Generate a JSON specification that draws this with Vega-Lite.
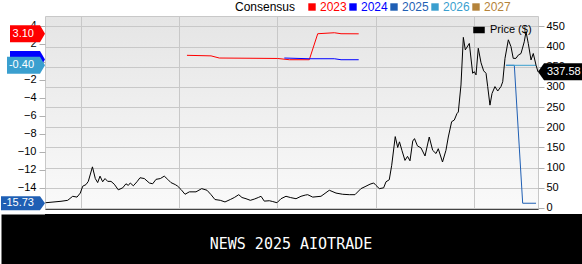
{
  "$schema": "https://vega.github.io/schema/vega-lite/v6.json",
  "padding": 0,
  "background": "white",
  "spacing": 0,
  "config": {"font": "Liberation Sans", "view": {"stroke": null}, "axis": {"labelOverlap": false, "labelBound": false, "minExtent": 0}},
  "vconcat": [
    {
      "width": 493,
      "height": 193,
      "view": {
        "stroke": "#c8c8c8",
        "fill": {"gradient": "linear", "x1": 0, "y1": 0, "x2": 0, "y2": 1, "stops": [{"offset": 0, "color": "#e5e5e5"}, {"offset": 1, "color": "#fafafa"}]}
      },
      "layer": [
        {
          "layer": [
            {
              "data": {"values": [
                {"s": "2023", "t": 2018.634, "v": 3.10, "label": "3.10"},
                {"s": "2024", "t": 2018.634, "v": 0.24, "label": ""},
                {"s": "2025", "t": 2018.634, "v": -15.73, "label": "-15.73"},
                {"s": "2026", "t": 2018.634, "v": -0.40, "label": "-0.40"}
              ]},
              "layer": [
                {
                  "mark": {"type": "point", "filled": true, "opacity": 1, "size": 4, "strokeWidth": 0},
                  "encoding": {
                    "x": {"field": "t", "type": "quantitative", "scale": {"domain": [2018.634, 2023.652], "nice": false, "zero": false}},
                    "y": {"field": "v", "type": "quantitative", "scale": {"domain": [-16.37, 5.08], "nice": false, "zero": false}},
                    "shape": {"field": "s", "type": "nominal", "legend": null, "scale": {"domain": ["2023", "2024", "2025", "2026"], "range": ["M0,0L-5,-8.5L-35,-8.5L-35,8.5L-5,8.5Z", "M0,0L-5,-8.5L-35,-8.5L-35,8.5L-5,8.5Z", "M0,0L-5,-7L-44,-7L-44,7L-5,7Z", "M0,0L-5,-8.5L-38,-8.5L-38,8.5L-5,8.5Z"]}},
                    "color": {
                      "field": "s", "type": "nominal",
                      "scale": {"domain": ["2023", "2024", "2025", "2026", "2027"], "range": ["#ff0000", "#0000ff", "#1f5fb4", "#3a9fcf", "#b5833a"]},
                      "legend": {
                        "orient": "none", "legendX": 190, "legendY": -15, "direction": "horizontal", "columns": 5,
                        "title": "Consensus", "titleOrient": "left", "titleFontSize": 12, "titleFontWeight": "normal", "titleColor": "black", "titlePadding": 10, "titleBaseline": "middle",
                        "labelFontSize": 12, "labelOffset": 2, "columnPadding": 0, "padding": 0,
                        "labelColor": {"expr": "datum.value == '2023' ? '#ff0000' : datum.value == '2024' ? '#0000ff' : datum.value == '2025' ? '#1f5fb4' : datum.value == '2026' ? '#3a9fcf' : '#b5833a'"},
                        "symbolType": "square", "symbolSize": 55, "symbolStrokeWidth": 0
                      }
                    }
                  }
                },
                {
                  "mark": {"type": "text", "color": "white", "fontSize": 11, "align": "right", "baseline": "middle", "dx": -11},
                  "encoding": {
                    "x": {"field": "t", "type": "quantitative"},
                    "y": {"field": "v", "type": "quantitative"},
                    "text": {"field": "label"}
                  }
                }
              ]
            },
            {
              "data": {"values": [
                {"s": "2023", "t": 2020.079, "v": 0.71},
                {"s": "2023", "t": 2020.324, "v": 0.65},
                {"s": "2023", "t": 2020.408, "v": 0.41},
                {"s": "2023", "t": 2021.002, "v": 0.36},
                {"s": "2023", "t": 2021.121, "v": 0.22},
                {"s": "2023", "t": 2021.324, "v": 0.22},
                {"s": "2023", "t": 2021.410, "v": 3.11},
                {"s": "2023", "t": 2021.579, "v": 3.22},
                {"s": "2023", "t": 2021.647, "v": 3.11},
                {"s": "2023", "t": 2021.827, "v": 3.10},
                {"s": "2024", "t": 2021.070, "v": 0.41},
                {"s": "2024", "t": 2021.324, "v": 0.33},
                {"s": "2024", "t": 2021.579, "v": 0.33},
                {"s": "2024", "t": 2021.647, "v": 0.22},
                {"s": "2024", "t": 2021.827, "v": 0.22},
                {"s": "2025", "t": 2023.326, "v": -0.40},
                {"s": "2025", "t": 2023.411, "v": -0.40},
                {"s": "2025", "t": 2023.496, "v": -15.73},
                {"s": "2025", "t": 2023.632, "v": -15.73},
                {"s": "2026", "t": 2023.326, "v": -0.40},
                {"s": "2026", "t": 2023.632, "v": -0.40}
              ]},
              "mark": {"type": "line", "strokeWidth": 1},
              "encoding": {
                "x": {"field": "t", "type": "quantitative", "scale": {"domain": [2018.634, 2023.652], "nice": false, "zero": false},
                      "axis": {"title": null, "grid": true, "gridColor": "#c8c8c8", "values": [2019, 2020, 2021, 2022, 2023], "tickCount": 30, "labels": false, "ticks": false, "domainColor": "#444444", "minExtent": 0}},
                "y": {"field": "v", "type": "quantitative",
                      "axis": {"orient": "left", "title": null, "grid": false, "domain": false, "values": [-14, -12, -10, -8, -6, -4, -2, 0, 2, 4], "tickCount": 30, "labelOverlap": false, "labelBound": false, "tickColor": "#b0b0b0", "tickSize": 6, "labelPadding": 3, "labelFontSize": 11, "labelColor": "black"}},
                "color": {"field": "s", "type": "nominal"}
              }
            }
          ]
        },
        {
          "layer": [
            {
              "data": {"values": [
                {"t": 2018.640, "p": 13}, {"t": 2018.797, "p": 16.6}, {"t": 2018.865, "p": 19}, {"t": 2018.916, "p": 29},
                {"t": 2018.960, "p": 27}, {"t": 2018.993, "p": 37}, {"t": 2019.018, "p": 54}, {"t": 2019.051, "p": 58},
                {"t": 2019.075, "p": 66}, {"t": 2019.117, "p": 102}, {"t": 2019.146, "p": 73}, {"t": 2019.170, "p": 63},
                {"t": 2019.194, "p": 79}, {"t": 2019.221, "p": 65}, {"t": 2019.245, "p": 73}, {"t": 2019.272, "p": 66},
                {"t": 2019.306, "p": 66}, {"t": 2019.339, "p": 59}, {"t": 2019.380, "p": 45}, {"t": 2019.425, "p": 50},
                {"t": 2019.458, "p": 60}, {"t": 2019.482, "p": 56}, {"t": 2019.502, "p": 62}, {"t": 2019.533, "p": 55},
                {"t": 2019.570, "p": 65}, {"t": 2019.601, "p": 75}, {"t": 2019.645, "p": 73}, {"t": 2019.696, "p": 62},
                {"t": 2019.730, "p": 60}, {"t": 2019.764, "p": 71}, {"t": 2019.808, "p": 73}, {"t": 2019.848, "p": 79},
                {"t": 2019.883, "p": 71}, {"t": 2019.916, "p": 63}, {"t": 2019.960, "p": 58}, {"t": 2019.985, "p": 54},
                {"t": 2020.018, "p": 46}, {"t": 2020.059, "p": 34}, {"t": 2020.103, "p": 40}, {"t": 2020.171, "p": 40},
                {"t": 2020.229, "p": 48}, {"t": 2020.283, "p": 44}, {"t": 2020.324, "p": 33}, {"t": 2020.364, "p": 21},
                {"t": 2020.418, "p": 19}, {"t": 2020.466, "p": 15}, {"t": 2020.520, "p": 21}, {"t": 2020.561, "p": 26},
                {"t": 2020.606, "p": 33}, {"t": 2020.639, "p": 26}, {"t": 2020.680, "p": 23}, {"t": 2020.724, "p": 19},
                {"t": 2020.764, "p": 22}, {"t": 2020.805, "p": 26}, {"t": 2020.833, "p": 29}, {"t": 2020.866, "p": 17},
                {"t": 2020.917, "p": 18}, {"t": 2020.952, "p": 16}, {"t": 2020.995, "p": 13}, {"t": 2021.036, "p": 23},
                {"t": 2021.087, "p": 29}, {"t": 2021.131, "p": 26}, {"t": 2021.189, "p": 23}, {"t": 2021.240, "p": 29},
                {"t": 2021.283, "p": 32}, {"t": 2021.308, "p": 33}, {"t": 2021.359, "p": 27}, {"t": 2021.443, "p": 29},
                {"t": 2021.528, "p": 44}, {"t": 2021.596, "p": 37}, {"t": 2021.664, "p": 34}, {"t": 2021.731, "p": 33},
                {"t": 2021.789, "p": 33}, {"t": 2021.850, "p": 48}, {"t": 2021.901, "p": 54}, {"t": 2021.942, "p": 59},
                {"t": 2021.980, "p": 62}, {"t": 2022.003, "p": 56}, {"t": 2022.037, "p": 48}, {"t": 2022.081, "p": 50},
                {"t": 2022.105, "p": 65}, {"t": 2022.138, "p": 70}, {"t": 2022.163, "p": 106}, {"t": 2022.199, "p": 177},
                {"t": 2022.224, "p": 150}, {"t": 2022.242, "p": 164}, {"t": 2022.268, "p": 142}, {"t": 2022.298, "p": 118},
                {"t": 2022.324, "p": 128}, {"t": 2022.349, "p": 117}, {"t": 2022.377, "p": 166}, {"t": 2022.395, "p": 172},
                {"t": 2022.425, "p": 154}, {"t": 2022.461, "p": 149}, {"t": 2022.502, "p": 129}, {"t": 2022.545, "p": 176},
                {"t": 2022.580, "p": 143}, {"t": 2022.614, "p": 135}, {"t": 2022.637, "p": 147}, {"t": 2022.680, "p": 114},
                {"t": 2022.715, "p": 143}, {"t": 2022.739, "p": 176}, {"t": 2022.773, "p": 214}, {"t": 2022.800, "p": 218},
                {"t": 2022.827, "p": 234}, {"t": 2022.841, "p": 238}, {"t": 2022.868, "p": 305}, {"t": 2022.892, "p": 423},
                {"t": 2022.912, "p": 392}, {"t": 2022.953, "p": 408}, {"t": 2022.987, "p": 334}, {"t": 2023.004, "p": 338},
                {"t": 2023.021, "p": 330}, {"t": 2023.044, "p": 396}, {"t": 2023.072, "p": 360}, {"t": 2023.099, "p": 340},
                {"t": 2023.123, "p": 334}, {"t": 2023.140, "p": 301}, {"t": 2023.163, "p": 255}, {"t": 2023.184, "p": 284},
                {"t": 2023.214, "p": 301}, {"t": 2023.242, "p": 290}, {"t": 2023.275, "p": 301}, {"t": 2023.293, "p": 313},
                {"t": 2023.316, "p": 371}, {"t": 2023.350, "p": 417}, {"t": 2023.377, "p": 400}, {"t": 2023.400, "p": 371},
                {"t": 2023.428, "p": 371}, {"t": 2023.451, "p": 379}, {"t": 2023.479, "p": 383}, {"t": 2023.512, "p": 412},
                {"t": 2023.530, "p": 437}, {"t": 2023.553, "p": 408}, {"t": 2023.581, "p": 367}, {"t": 2023.604, "p": 383},
                {"t": 2023.632, "p": 354}, {"t": 2023.652, "p": 337.58}
              ]},
              "mark": {"type": "line", "strokeWidth": 1},
              "encoding": {
                "x": {"field": "t", "type": "quantitative", "scale": {"domain": [2018.634, 2023.652], "nice": false, "zero": false}},
                "y": {"field": "p", "type": "quantitative", "scale": {"domain": [-2.5, 476], "nice": false, "zero": false},
                      "axis": {"orient": "right", "title": null, "grid": true, "gridColor": "#c8c8c8", "domain": false, "values": [0, 50, 100, 150, 200, 250, 300, 350, 400, 450], "tickCount": 30, "labelOverlap": false, "labelBound": false, "tickColor": "#b0b0b0", "tickSize": 6, "labelPadding": 2, "labelFontSize": 11, "labelColor": "black"}},
                "color": {
                  "datum": "Price ($)", "type": "nominal",
                  "scale": {"range": ["black"]},
                  "legend": {"orient": "none", "legendX": 428, "legendY": 8, "title": null, "padding": 0, "symbolType": "M-1,-0.5H1V0.5H-1Z", "symbolSize": 100, "symbolFillColor": "black", "symbolStrokeColor": "black", "labelFontSize": 11, "labelColor": "black", "labelOffset": 5}
                }
              }
            },
            {
              "data": {"values": [{"t": 2023.652, "p": 337.58, "label": "337.58"}]},
              "layer": [
                {
                  "mark": {"type": "point", "filled": true, "opacity": 1, "size": 4, "strokeWidth": 0, "color": "black", "shape": "M0,0L6,-8.5L45,-8.5L45,8.5L6,8.5Z"},
                  "encoding": {
                    "x": {"field": "t", "type": "quantitative"},
                    "y": {"field": "p", "type": "quantitative"}
                  }
                },
                {
                  "mark": {"type": "text", "color": "white", "fontSize": 11, "align": "left", "baseline": "middle", "dx": 9},
                  "encoding": {
                    "x": {"field": "t", "type": "quantitative"},
                    "y": {"field": "p", "type": "quantitative"},
                    "text": {"field": "label"}
                  }
                }
              ]
            }
          ]
        }
      ],
      "resolve": {"scale": {"y": "independent", "color": "independent", "shape": "independent"}}
    },
    {
      "width": 538,
      "height": 54,
      "view": {"fill": "black", "stroke": null},
      "data": {"values": [{"text": "NEWS 2025 AIOTRADE", "k": 0}]},
      "mark": {"type": "text", "color": "white", "font": "DejaVu Sans Mono", "fontSize": 15, "baseline": "middle", "dy": 3, "dx": -23},
      "encoding": {
        "text": {"field": "text"},
        "y": {"field": "k", "type": "quantitative", "scale": {"domain": [-1, 1]},
              "axis": {"orient": "left", "title": null, "labels": false, "ticks": false, "grid": false, "domain": true, "domainColor": "black", "domainWidth": 88, "minExtent": 0}}
      }
    }
  ]
}
